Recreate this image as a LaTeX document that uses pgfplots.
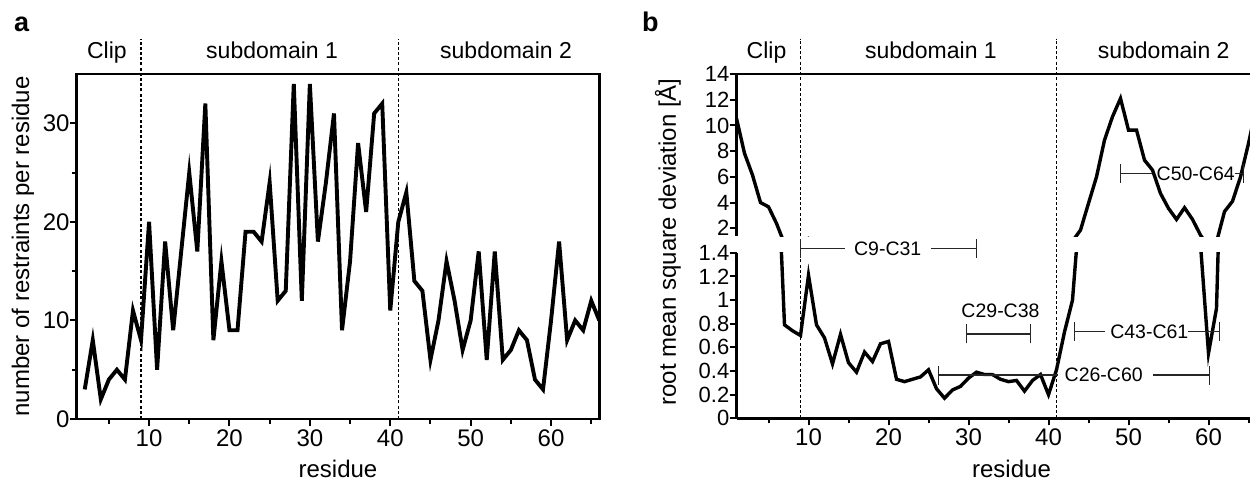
\documentclass[border=0pt]{standalone}
\usepackage{fontspec}
\setmainfont{Liberation Sans}
\usepackage{pgfplots}
\usepackage{pgfplotstable}
\pgfplotsset{compat=1.18}
\usetikzlibrary{arrows.meta}

\newcommand\fbig{\fontsize{24}{28}\selectfont}
\newcommand\fmid{\fontsize{23}{27}\selectfont}
\newcommand\fsmall{\fontsize{22}{26}\selectfont}
\newcommand\fann{\fontsize{19.5}{23}\selectfont}

% restraints per residue (panel a)
\pgfplotstableread{
r n
2 3
3 8
4 2
5 4
6 5
7 4
8 11
9 8
10 20
11 5
12 18
13 9
14 17
15 25
16 17
17 32
18 8
19 16
20 9
21 9
22 19
23 19
24 18
25 24
26 12
27 13
28 34
29 12
30 34
31 18
32 24
33 31
34 9
35 16
36 28
37 21
38 31
39 32
40 11
41 20
42 23
43 14
44 13
45 6
46 10
47 16
48 12
49 7
50 10
51 17
52 6
53 17
54 6
55 7
56 9
57 8
58 4
59 3
60 10
61 18
62 8
63 10
64 9
65 12
66 10
}\restraints

% rmsd per residue (panel b)
\pgfplotstableread{
r d
1 10.55
2 7.83
3 6.14
4 4.0
5 3.67
6 2.38
7 0.79
8 0.74
9 0.70
10 1.21
11 0.79
12 0.68
13 0.46
14 0.71
15 0.47
16 0.39
17 0.56
18 0.48
19 0.63
20 0.65
21 0.33
22 0.31
23 0.33
24 0.35
25 0.41
26 0.25
27 0.17
28 0.24
29 0.27
30 0.34
31 0.39
32 0.37
33 0.37
34 0.33
35 0.31
36 0.32
37 0.23
38 0.32
39 0.37
40 0.20
41 0.41
42 0.73
43 1.00
44 1.86
45 3.94
46 6.0
47 8.86
48 10.68
49 12.1
50 9.64
51 9.64
52 7.3
53 6.53
54 4.71
55 3.55
56 2.69
57 3.6
58 2.69
59 1.47
60 0.55
61 0.93
62 3.3
63 4.1
64 6.0
65 8.6
66 11.5
}\rmsd

\tikzset{
  rng/.style={line width=1.1pt, black!85},
  sep/.style={dash pattern=on 3pt off 2.2pt, line width=1.2pt},
}
\newcommand\capat[2]{\draw[rng] ([yshift=-9.5pt]axis cs:#1,#2) -- ([yshift=9.5pt]axis cs:#1,#2);}

\pgfplotsset{
  common/.style={
    scale only axis, anchor=south west,
    xmin=1, xmax=66,
    /pgf/number format/assume math mode=true,
    tick align=outside,
    major tick length=7pt, minor tick length=5pt,
    tick style={line width=2pt, black},
    axis line style={line width=2.9pt},
    label style={font=\fbig},
    yticklabel style={inner sep=0pt},
  },
}

\begin{document}
\begin{tikzpicture}
\clip (0pt,0pt) rectangle (1250pt,483pt);

\node[anchor=base west, font=\bfseries\fontsize{27}{30}\selectfont, inner sep=0pt] at (14pt,451pt) {a};
\node[anchor=base west, font=\bfseries\fontsize{27}{30}\selectfont, inner sep=0pt] at (642pt,451pt) {b};

% panel a
\begin{axis}[common,
  at={(76.7pt,64pt)}, width=522.6pt, height=345pt,
  ymin=0, ymax=35,
  xtick={10,20,30,40,50,60}, minor xtick={5,15,25,35,45,55,65},
  ytick={0,10,20,30}, minor ytick={5,15,25},
  tick pos=left,
  ticklabel style={font=\fbig},
  clip=false,
  xlabel={residue},
  xlabel style={at={([yshift=-58pt]axis description cs:0.5,0)}, anchor=base},
  ylabel={number of restraints per residue},
  ylabel style={at={([xshift=-53.7pt]axis description cs:0,0.5)}, anchor=center},
]
\addplot[line width=3.9pt, black] table[x=r, y=n] {\restraints};
\draw[sep] (axis cs:9,0) -- (axis cs:9,38.6);
\draw[sep] (axis cs:41,0) -- (axis cs:41,38.6);
\node[font=\fmid, anchor=base] at (axis cs:4.75,36.57) {Clip};
\node[font=\fmid, anchor=base] at (axis cs:25.3,36.57) {subdomain 1};
\node[font=\fmid, anchor=base] at (axis cs:54.4,36.57) {subdomain 2};
\end{axis}

% panel b, lower segment
\begin{axis}[common,
  at={(736.5pt,64.7pt)}, width=520pt, height=165.6pt,
  ymin=0, ymax=1.4,
  axis x line*=bottom, axis y line*=left,
  xtick={10,20,30,40,50,60}, minor xtick={5,15,25,35,45,55,65},
  ytick={0,0.2,0.4,0.6,0.8,1,1.2,1.4},
  xticklabel style={font=\fbig}, yticklabel style={font=\fsmall},
  clip mode=individual,
  xlabel={residue},
  xlabel style={at={([xshift=15pt,yshift=-58.7pt]axis description cs:0.5,0)}, anchor=base},
  ylabel={root mean square deviation [Å]},
  ylabel style={at={([xshift=-68.5pt]axis description cs:0,1.065)}, anchor=center},
]
\addplot[line width=3.4pt, black] table[x=r, y=d] {\rmsd};
\draw[sep] (axis cs:9,0) -- (axis cs:9,3.21);
\draw[sep] (axis cs:41,0) -- (axis cs:41,3.21);
\node[font=\fmid, anchor=base] at (axis cs:4.75,3.041) {Clip};
\node[font=\fmid, anchor=base] at (axis cs:25.3,3.041) {subdomain 1};
\node[font=\fmid, anchor=base] at (axis cs:54.4,3.041) {subdomain 2};
% C9-C31
\draw[rng] (axis cs:9,1.437) -- (axis cs:14.6,1.437);
\draw[rng] (axis cs:25.3,1.437) -- (axis cs:31,1.437);
\capat{9}{1.437}\capat{31}{1.437}
\node[font=\fann, inner sep=0pt] at (axis cs:19.9,1.437) {C9-C31};
% C29-C38
\draw[rng] (axis cs:29.8,0.713) -- (axis cs:37.8,0.713);
\capat{29.8}{0.713}\capat{37.8}{0.713}
\node[font=\fann, inner sep=0pt] at (axis cs:34,0.907) {C29-C38};
% C26-C60
\draw[rng] (axis cs:26.2,0.366) -- (axis cs:41.2,0.366);
\draw[rng] (axis cs:53,0.366) -- (axis cs:60.1,0.366);
\capat{26.2}{0.366}\capat{60.1}{0.366}
\node[font=\fann, inner sep=0pt] at (axis cs:46.9,0.366) {C26-C60};
% C43-C61
\draw[rng] (axis cs:43.2,0.732) -- (axis cs:47.1,0.732);
\draw[rng] (axis cs:57.4,0.732) -- (axis cs:61.35,0.732);
\capat{43.2}{0.732}\capat{61.35}{0.732}
\node[font=\fann, inner sep=0pt] at (axis cs:52.6,0.732) {C43-C61};
\end{axis}

% panel b, upper segment
\begin{axis}[common,
  at={(736.5pt,247pt)}, width=520pt, height=162pt,
  ymin=1.4, ymax=14,
  axis x line*=top, axis y line*=left,
  xtick=\empty,
  ytick={2,4,6,8,10,12,14},
  yticklabel style={font=\fsmall},
  clip mode=individual,
]
\addplot[line width=3.4pt, black] table[x=r, y=d] {\rmsd};
% C50-C64
\draw[rng] (axis cs:49,6.27) -- (axis cs:52.9,6.27);
\draw[rng] (axis cs:63.3,6.27) -- (axis cs:64.4,6.27);
\capat{49}{6.27}\capat{64.4}{6.27}
\node[font=\fann, inner sep=0pt] at (axis cs:58.4,6.27) {C50-C64};
\end{axis}
\end{tikzpicture}
\end{document}
